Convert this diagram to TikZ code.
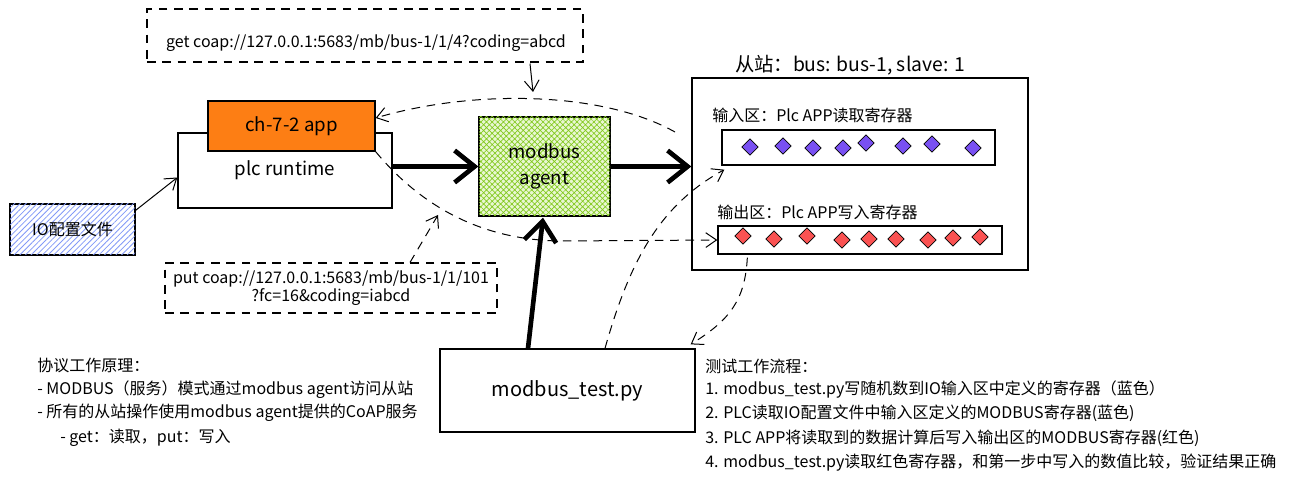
\documentclass[tikz,border=0pt]{standalone}
\usepackage{fontspec}
\setmainfont{Noto Sans CJK SC}
\usetikzlibrary{arrows.meta,shapes.geometric,patterns.meta,calc}
\definecolor{orng}{HTML}{FD7E14}
\definecolor{pdiac}{HTML}{7950F2}
\definecolor{rdiac}{HTML}{FA5252}
\definecolor{bhatch}{HTML}{4C6EF5}
\definecolor{ghatch}{HTML}{82C91E}
\definecolor{gfill}{HTML}{E9F7D2}
\tikzset{
  box/.style={draw=black, line width=1pt, inner sep=0pt},
  dbox/.style={draw=black, line width=0.8pt, dash pattern=on 6.5pt off 5pt, inner sep=0pt},
  thinarr/.style={line width=0.75pt, -{Straight Barb[length=8pt,width=11pt,line width=0.75pt]}},
  dsharr/.style={line width=0.75pt, dash pattern=on 6.5pt off 5pt, -{Straight Barb[length=8pt,width=11pt,line width=0.75pt]}},
  thickarr/.style={line width=3.5pt, -{Straight Barb[length=15pt,width=24pt,line width=3.5pt]}},
  pdia/.style={diamond, draw=black, line width=0.6pt, fill=pdiac, inner sep=0pt, minimum width=12.5pt, minimum height=12.5pt},
  rdia/.style={diamond, draw=black, line width=0.6pt, fill=rdiac, inner sep=0pt, minimum width=12.5pt, minimum height=12.5pt},
  note/.style={anchor=west, inner sep=0pt, font=\fontsize{12}{14}\selectfont},
  big/.style={font=\fontsize{14}{17}\selectfont},
}
\begin{document}
\begin{tikzpicture}[x=0.75pt,y=-0.75pt]
\useasboundingbox[fill=white] (0,0) rectangle (1297,484);

% boxes
\node[dbox, minimum width=327pt, minimum height=39.75pt] (get) at (365,35.5) {};
\node[inner sep=0pt, font=\fontsize{12}{14}\selectfont] (gettxt) at (366,43) {get coap://127.0.0.1:5683/mb/bus-1/1/4?coding=abcd};

\node[box, fill=white, minimum width=160.5pt, minimum height=56.25pt, big] (plc) at (285,170.5) {plc runtime};
\node[box, fill=orng, minimum width=125.25pt, minimum height=37.5pt, big] (app) at (291.5,126) {ch-7-2 app};

\node[box, fill=white, postaction={pattern={Lines[angle=45,distance=3pt,line width=0.6pt]}, pattern color=bhatch!70}, minimum width=93.75pt, minimum height=38.25pt, font=\fontsize{12}{14}\selectfont] (io) at (72.5,229.5) {IO配置文件};

\node[box, fill=gfill, postaction={pattern={Hatch[angle=45,distance=3pt,line width=0.5pt]}, pattern color=ghatch}, minimum width=98.25pt, minimum height=74.25pt, align=center, font=\fontsize{14}{19}\selectfont] (agent) at (544.5,166.5) {modbus\\agent};

\node[box, minimum width=252pt, minimum height=144pt] (slave) at (860,174) {};
\node[inner sep=0pt, font=\fontsize{14.5}{17}\selectfont] (slavetitle) at (850,65) {从站：bus: bus-1, slave: 1};
\node[note] (inlbl) at (712,115) {输入区：Plc APP读取寄存器};
\node[box, minimum width=204.75pt, minimum height=26.25pt] (inreg) at (858.5,147.5) {};
\node[note] (outlbl) at (717,212) {输出区：Plc APP写入寄存器};
\node[box, minimum width=213pt, minimum height=21pt] (outreg) at (860,240) {};

\foreach \x/\y [count=\i] in {750/147,783/146,813/148,843/148,866/143,903/146,932/144,973/148}
  \node[pdia] (p\i) at (\x,\y) {};
\foreach \x/\y [count=\i] in {743/236,774/239,807/236,842/240,869/239,896/239,928/240,953/238,980/237}
  \node[rdia] (r\i) at (\x,\y) {};

\node[dbox, minimum width=249pt, minimum height=37.5pt, align=center, font=\fontsize{12}{13.5}\selectfont] (put) at (331,288) {put coap://127.0.0.1:5683/mb/bus-1/1/101\\?fc=16\&coding=iabcd};

\node[box, minimum width=191.25pt, minimum height=62.25pt, font=\fontsize{15}{18}\selectfont] (test) at (567.5,390.5) {modbus\_test.py};

% notes
\node[note] (l1) at (37,365) {协议工作原理：};
\node[note] (l2) at (37,390) {- MODBUS（服务）模式通过modbus agent访问从站};
\node[note] (l3) at (37,413) {- 所有的从站操作使用modbus agent提供的CoAP服务};
\node[note] (l4) at (60,438) {- get：读取，put：写入};

\node[note] (n1) at (705,366) {测试工作流程：};
\node[note] (n2) at (705,390) {1. modbus\_test.py写随机数到IO输入区中定义的寄存器（蓝色）};
\node[note] (n3) at (705,413) {2. PLC读取IO配置文件中输入区定义的MODBUS寄存器(蓝色)};
\node[note] (n4) at (705,438) {3. PLC APP将读取到的数据计算后写入输出区的MODBUS寄存器(红色)};
\node[note] (n5) at (705,463) {4. modbus\_test.py读取红色寄存器，和第一步中写入的数值比较，验证结果正确};

% free ends
\coordinate (gend) at (533,92);
\coordinate (tstart) at (675,132);
\coordinate (pend) at (438,215);

% connectors
\draw[thinarr] ($(get.south)+(165,1)$) -- (gend);
\draw[thinarr] ($(io.north east)+(0,7)$) -- ($(plc.west)+(0,7)$);
\draw[thickarr] (plc.east |- agent.west) -- (agent.west);
\draw[thickarr] (agent.east) -- (slave.west |- agent.east);
\draw[thickarr] ($(test.north)+(-39.5,0)$) -- ($(agent.south)+(-1.5,1)$);

\draw[dsharr] (tstart) .. controls (600,90) and (470,90) .. ($(app.east)+(0,-8)$);
\draw[dsharr] (app.south east) .. controls (420,205) and (480,240) .. (560,241) -- (outreg.west);
\draw[dsharr] ($(put.north)+(79,0)$) -- (pend);
\draw[dsharr] ($(test.north)+(37.5,0)$) .. controls (630,260) and (660,205) .. ($(inreg.south west)+(3,4)$);
\draw[dsharr] ($(outreg.south west)+(30,3)$) .. controls (745,300) and (730,320) .. ($(test.north east)+(-5,-4)$);
\end{tikzpicture}
\end{document}
